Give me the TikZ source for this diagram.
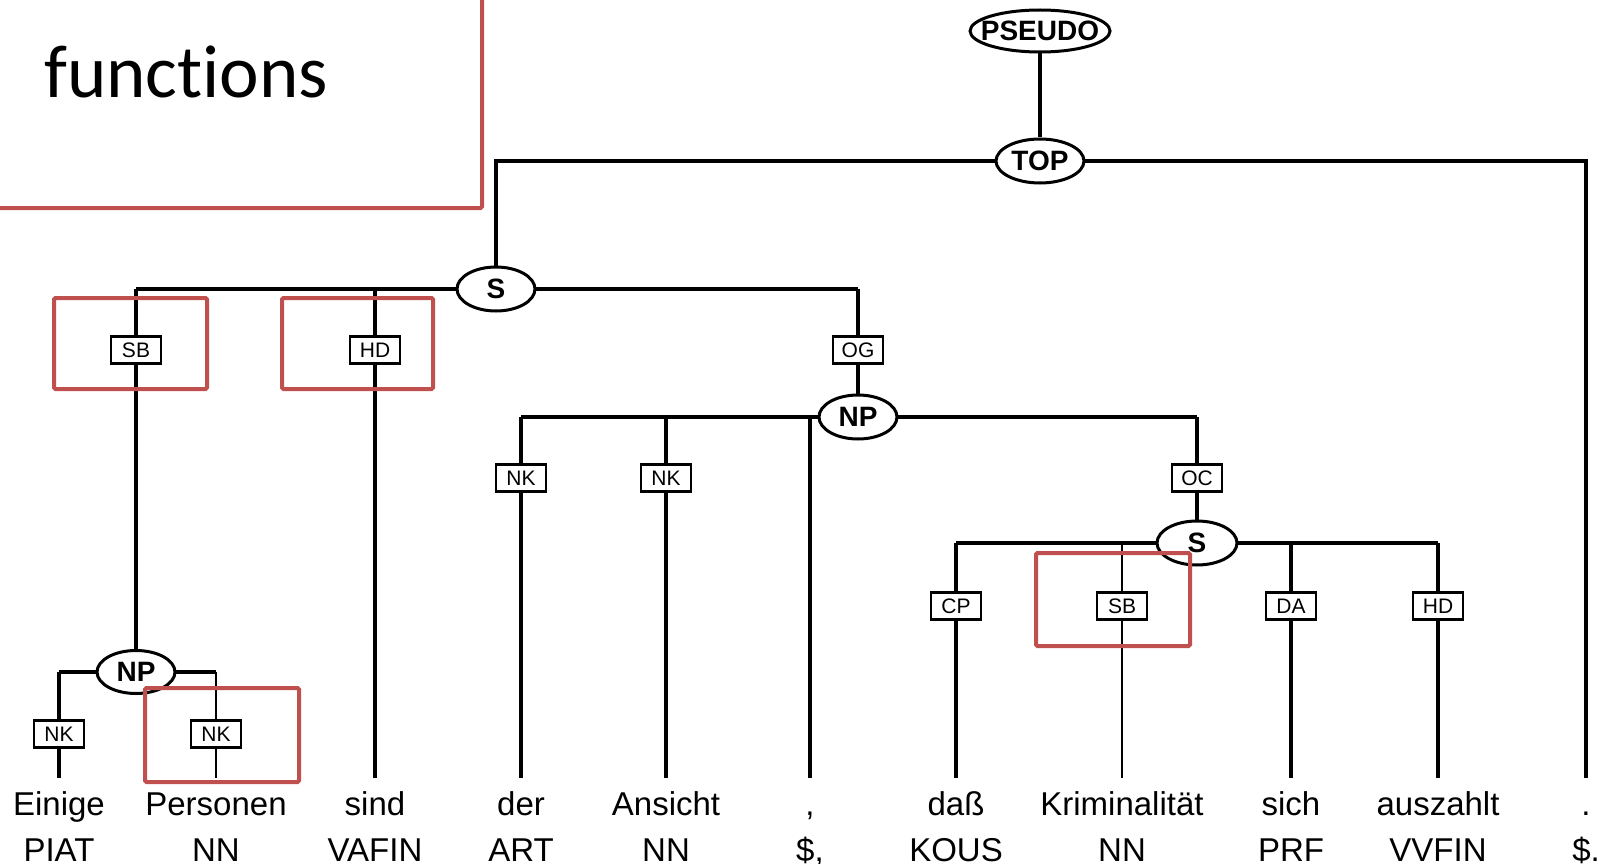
\documentclass[tikz,border=0pt]{standalone}
\usepackage{fontspec}
\setmainfont{Liberation Sans}
\newfontfamily\titlefont[Ligatures=NoCommon]{Carlito}
\usetikzlibrary{shapes.geometric,backgrounds}
\definecolor{boxred}{RGB}{192,80,77}
\begin{document}
\begin{tikzpicture}[x=1pt,y=-1pt,
  cat/.style={ellipse,draw,fill=white,line width=3pt,inner sep=0pt,
    font=\fontsize{28}{32}\selectfont\bfseries},
  fn/.style={rectangle,draw,fill=white,line width=2.8pt,inner sep=0pt,
    minimum width=50pt,minimum height=27pt,font=\fontsize{21}{24}\selectfont},
  word/.style={inner sep=0pt,text height=24pt,text depth=7pt,outer ysep=13pt,
    anchor=base,font=\fontsize{33}{38}\selectfont},
  tag/.style={inner sep=0pt,anchor=base,font=\fontsize{33}{38}\selectfont},
  branch/.style={line width=3.4pt},
  thinbranch/.style={line width=2.4pt},
  redbox/.style={draw=boxred,line width=4pt,rounded corners=1.5pt}
]
\useasboundingbox (0,0) rectangle (1606,864);

% category nodes
\node[cat,inner xsep=-11pt,minimum width=140pt,minimum height=42pt] (pseudo) at (1040,31) {PSEUDO};
\node[cat,minimum width=88pt,minimum height=44pt] (top) at (1040,161) {TOP};
\node[cat,minimum width=78pt,minimum height=44pt] (s1) at (496,289) {S};
\node[cat,minimum width=78pt,minimum height=44pt] (np1) at (858,417) {NP};
\node[cat,minimum width=80pt,minimum height=44pt] (s2) at (1197,543) {S};
\node[cat,minimum width=78pt,minimum height=43pt] (np2) at (136,672) {NP};

% function labels
\node[fn] (sb1) at (136,350) {SB};
\node[fn] (hd1) at (375,350) {HD};
\node[fn] (og)  at (858,350) {OG};
\node[fn] (nk3) at (521,478) {NK};
\node[fn] (nk4) at (666,478) {NK};
\node[fn] (oc)  at (1197,478) {OC};
\node[fn] (cp)  at (956,606) {CP};
\node[fn] (sb2) at (1122,606) {SB};
\node[fn] (da)  at (1291,606) {DA};
\node[fn] (hd2) at (1438,606) {HD};
\node[fn] (nk1) at (59,734) {NK};
\node[fn] (nk2) at (216,734) {NK};

% words and part-of-speech tags
\foreach \n/\x/\w/\t in {1/59/Einige/PIAT, 2/216/Personen/NN, 3/375/sind/VAFIN,
    4/521/der/ART, 5/666/Ansicht/NN, 6/810/{,}/{\$,}, 7/956/daß/KOUS,
    8/1122/Kriminalität/NN, 9/1291/sich/PRF, 10/1438/auszahlt/VVFIN, 11/1586/./{\$.}} {
  \node[word] (w\n) at (\x,815) {\w};
  \node[tag] (t\n) at (\x,861) {\t};
}

% tree branches
\begin{scope}[on background layer]
  \draw[branch] (pseudo) -- (top);
  \draw[branch] (s1.center) -- (s1 |- top) -- (w11 |- top) -- (w11);
  % S
  \draw[branch] (sb1 |- s1) -- (og |- s1);
  \draw[branch] (sb1 |- s1) -- (np2.center);
  \draw[branch] (hd1 |- s1) -- (w3);
  \draw[branch] (og |- s1) -- (np1.center);
  % NP
  \draw[branch] (nk3 |- np1) -- (oc |- np1);
  \draw[branch] (nk3 |- np1) -- (w4);
  \draw[branch] (nk4 |- np1) -- (w5);
  \draw[branch] (w6 |- np1) -- (w6);
  \draw[branch] (oc |- np1) -- (s2.center);
  % embedded S
  \draw[branch] (cp |- s2) -- (hd2 |- s2);
  \draw[branch] (cp |- s2) -- (w7);
  \draw[thinbranch] (sb2 |- s2) -- (w8);
  \draw[branch] (da |- s2) -- (w9);
  \draw[branch] (hd2 |- s2) -- (w10);
  % subject NP
  \draw[branch] (nk1 |- np2) -- (nk2 |- np2);
  \draw[branch] (nk1 |- np2) -- (w1);
  \draw[thinbranch] (nk2 |- np2) -- (w2);
\end{scope}

% highlighted functions
\node[anchor=base west,inner sep=0pt,font=\titlefont\fontsize{75}{82}\selectfont]
  (title) at (44,98) {functions};
\draw[redbox] (482,-6) -- (482,208) -- (-6,208);
\draw[redbox] (54,298) rectangle (207,389);
\draw[redbox] (282,298) rectangle (433,389);
\draw[redbox] (1036,553) rectangle (1190,646);
\draw[redbox] (145,688) rectangle (299,782);
\end{tikzpicture}
\end{document}
